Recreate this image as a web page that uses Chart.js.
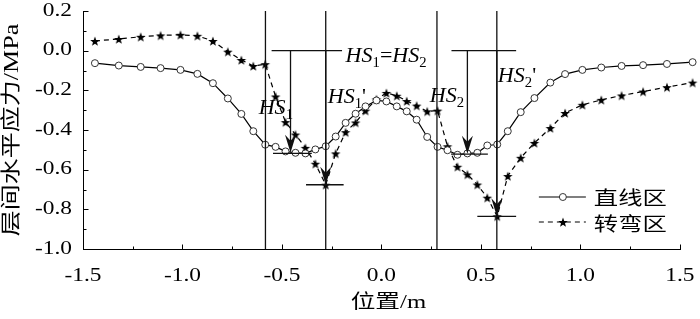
<!DOCTYPE html>
<html><head><meta charset="utf-8">
<script src="https://cdn.jsdelivr.net/npm/chart.js@4.4.1/dist/chart.umd.min.js"></script>
<style>html,body{margin:0;padding:0;background:#fff;}canvas{display:block;}</style>
</head><body>
<canvas id="c" width="700" height="319"></canvas>
<script>
// ---------- data ----------
const positions = [-1.44,-1.32,-1.21,-1.11,-1.01,-0.925,-0.847,-0.772,-0.704,-0.644,
  -0.584,-0.532,-0.482,-0.432,-0.382,-0.332,-0.28,-0.23,-0.18,-0.13,
  -0.08,-0.025,0.025,0.077,0.127,0.177,0.23,0.282,0.332,0.382,
  0.432,0.482,0.532,0.582,0.635,0.70,0.769,0.849,0.923,1.01,
  1.105,1.207,1.315,1.435,1.564];
const straightZone = [-0.063,-0.075,-0.082,-0.088,-0.097,-0.117,-0.164,-0.241,-0.319,-0.406,
  -0.474,-0.485,-0.508,-0.515,-0.518,-0.498,-0.482,-0.433,-0.364,-0.318,
  -0.281,-0.251,-0.256,-0.281,-0.306,-0.348,-0.435,-0.485,-0.502,-0.525,
  -0.518,-0.515,-0.478,-0.473,-0.406,-0.31,-0.239,-0.161,-0.118,-0.097,
  -0.085,-0.077,-0.073,-0.067,-0.058];
const curveZone = [0.049,0.059,0.07,0.077,0.08,0.075,0.049,-0.005,-0.047,-0.077,
  -0.068,-0.231,-0.36,-0.423,-0.49,-0.57,-0.676,-0.518,-0.411,-0.362,
  -0.302,-0.245,-0.213,-0.227,-0.254,-0.277,-0.306,-0.302,-0.482,-0.585,
  -0.624,-0.675,-0.741,-0.835,-0.632,-0.54,-0.465,-0.39,-0.314,-0.273,
  -0.248,-0.226,-0.206,-0.184,-0.161];
const seriesNames = ['直线区', '转弯区'];
const xTickValues = [-1.5, -1.0, -0.5, 0.0, 0.5, 1.0, 1.5];
const xMinorValues = [-1.25, -0.75, -0.25, 0.25, 0.75, 1.25];
const yTickValues = [-1.0, -0.8, -0.6, -0.4, -0.2, 0.0, 0.2];
const yMinorValues = [-0.9, -0.7, -0.5, -0.3, -0.1, 0.1];
const xTitle = '位置/m';
const yTitle = '层间水平应力/MPa';

// annotation geometry (data units)
const guideLinesX = [-0.583, -0.28, 0.279, 0.58];
const guideSpan = [0.2, -1.0];
const topBarY = 0.0;
const topBars = [[-0.552, -0.198], [0.352, 0.677]];
const arrowX = [-0.457, -0.28, 0.432, 0.58];
const arrowTo = [-0.515, -0.676, -0.52, -0.835];
const minBarFrom = [-0.545, -0.379, 0.35, 0.482];
const minBarTo = [-0.35, -0.19, 0.535, 0.677];
const minBarY = [-0.518, -0.676, -0.522, -0.836];
const labelX = [-0.617, -0.27, -0.18, 0.243, 0.585];
const labelY = [-0.318, -0.265, -0.058, -0.26, -0.157];
const labelParts = [
  [['HS','i'],['1','s']],
  [['HS','i'],['1','s'],["'",'n']],
  [['HS','i'],['1','s'],['=','n'],['HS','i'],['2','s']],
  [['HS','i'],['2','s']],
  [['HS','i'],['2','s'],["'",'n']]
];

// ---------- text stretch helper ----------
let TEXT_SX = 1.3;
const canvas = document.getElementById('c');
const ctx = canvas.getContext('2d');
const nativeFill = ctx.fillText.bind(ctx);
ctx.fillText = function (text, x, y, maxWidth) {
  this.save();
  this.translate(x, y);
  this.scale(TEXT_SX, 1);
  if (maxWidth === undefined) nativeFill(text, 0, 0);
  else nativeFill(text, 0, 0, maxWidth / TEXT_SX);
  this.restore();
};

const FAM = '"Liberation Serif", "Noto Sans CJK SC", serif';

function makeStar(R) {
  const c = document.createElement('canvas');
  const s = Math.ceil(R * 2 + 2);
  c.width = c.height = s;
  const g = c.getContext('2d');
  g.fillStyle = '#000';
  g.beginPath();
  for (let i = 0; i < 10; i++) {
    const r = i % 2 ? R * 0.42 : R;
    const a = -Math.PI / 2 + i * Math.PI / 5;
    g.lineTo(s / 2 + r * Math.cos(a), s / 2 + 0.6 + r * Math.sin(a));
  }
  g.closePath();
  g.fill();
  return c;
}
const starImg = makeStar(5.0);

const fmt = v => (Math.abs(v) < 1e-9 ? '0.0' : v.toFixed(1));

const decor = {
  id: 'decor',
  afterDatasetsDraw(chart) {
    const c = chart.ctx;
    const sx = chart.scales.x, sy = chart.scales.y;
    const X = v => sx.getPixelForValue(v), Y = v => sy.getPixelForValue(v);
    c.save();
    c.strokeStyle = '#111';
    c.fillStyle = '#111';
    c.lineWidth = 1.3;
    c.setLineDash([]);
    const seg = (x1, y1, x2, y2) => { c.beginPath(); c.moveTo(x1, y1); c.lineTo(x2, y2); c.stroke(); };
    guideLinesX.forEach(g => seg(X(g), Y(guideSpan[0]), X(g), Y(guideSpan[1])));
    topBars.forEach(b => seg(X(b[0]), Y(topBarY), X(b[1]), Y(topBarY)));
    minBarFrom.forEach((f, i) => seg(X(f), Y(minBarY[i]), X(minBarTo[i]), Y(minBarY[i])));
    arrowX.forEach((ax, i) => {
      const px = X(ax), tip = Y(arrowTo[i]);
      seg(px, Y(topBarY), px, tip - 8);
      c.beginPath();
      c.moveTo(px, tip);
      c.lineTo(px - 5.5, tip - 18);
      c.lineTo(px, tip - 12);
      c.lineTo(px + 5.5, tip - 18);
      c.closePath();
      c.fill();
    });
    // labels
    TEXT_SX = 1.05;
    c.fillStyle = '#000';
    c.textAlign = 'left';
    c.textBaseline = 'alphabetic';
    labelParts.forEach((parts, i) => {
      let cx = X(labelX[i]);
      const by = Y(labelY[i]);
      parts.forEach(([t, k]) => {
        c.font = k === 'i' ? 'italic 21px ' + FAM : (k === 's' ? '14px ' + FAM : '21px ' + FAM);
        c.fillText(t, cx, by + (k === 's' ? 5 : 0));
        cx += c.measureText(t).width * TEXT_SX;
      });
    });
    TEXT_SX = 1.3;
    c.restore();
  },
  afterDraw(chart) {
    const c = chart.ctx;
    const sx = chart.scales.x, sy = chart.scales.y;
    const X = v => sx.getPixelForValue(v), Y = v => sy.getPixelForValue(v);
    const area = chart.chartArea;
    c.save();
    c.strokeStyle = '#000';
    c.lineWidth = 1;
    c.setLineDash([]);
    const axisY = Math.round(area.bottom) + 0.5;
    const axisX = Math.round(area.left) + 0.5;
    // x axis line (only up to 1.5)
    c.beginPath(); c.moveTo(axisX - 0.5, axisY); c.lineTo(Math.round(X(xTickValues[xTickValues.length - 1])) + 1, axisY); c.stroke();
    // ticks pointing inward
    const tick = (x1, y1, x2, y2) => { c.beginPath(); c.moveTo(x1, y1); c.lineTo(x2, y2); c.stroke(); };
    xTickValues.forEach(v => { const p = Math.round(X(v)) + 0.5; tick(p, axisY, p, axisY - 5); });
    xMinorValues.forEach(v => { const p = Math.round(X(v)) + 0.5; tick(p, axisY, p, axisY - 3); });
    yTickValues.forEach(v => { const p = Math.round(Y(v)) + 0.5; tick(axisX, p, axisX + 5, p); });
    yMinorValues.forEach(v => { const p = Math.round(Y(v)) + 0.5; tick(axisX, p, axisX + 3, p); });

    // legend
    const x0 = X(1.5) - 141, x1 = x0 + 47, xm = x0 + 24;
    const rows = [area.bottom - 52, area.bottom - 27];
    c.strokeStyle = '#000';
    c.lineWidth = 1.2;
    c.beginPath(); c.moveTo(x0, rows[0]); c.lineTo(x1, rows[0]); c.stroke();
    c.beginPath(); c.arc(xm, rows[0], 3.5, 0, Math.PI * 2); c.fillStyle = '#fff'; c.fill();
    c.strokeStyle = '#333'; c.lineWidth = 1; c.stroke();
    c.strokeStyle = '#000'; c.lineWidth = 1.2; c.setLineDash([5, 4]);
    c.beginPath(); c.moveTo(x0, rows[1]); c.lineTo(x1, rows[1]); c.stroke();
    c.setLineDash([]);
    c.drawImage(starImg, Math.round(xm - starImg.width / 2), Math.round(rows[1] - starImg.height / 2));
    TEXT_SX = 1.28;
    c.fillStyle = '#000';
    c.font = '19px "Noto Sans CJK SC", sans-serif';
    c.textAlign = 'left';
    c.textBaseline = 'middle';
    c.fillText(seriesNames[0], x1 + 8, rows[0] + 1);
    c.fillText(seriesNames[1], x1 + 8, rows[1] + 2);
    TEXT_SX = 1.3;
    c.restore();
  }
};

new Chart(ctx, {
  type: 'line',
  data: {
    datasets: [
      {
        label: seriesNames[0],
        data: positions.map((x, i) => ({ x, y: straightZone[i] })),
        borderColor: '#000', borderWidth: 1.2, tension: 0,
        pointStyle: 'circle', pointRadius: 3.5, pointBackgroundColor: '#fff',
        pointBorderColor: '#333', pointBorderWidth: 1, clip: false
      },
      {
        label: seriesNames[1],
        data: positions.map((x, i) => ({ x, y: curveZone[i] })),
        borderColor: '#000', borderWidth: 1.2, borderDash: [5, 4], tension: 0,
        pointStyle: starImg, pointRadius: 5, clip: false
      }
    ]
  },
  options: {
    responsive: false,
    animation: false,
    devicePixelRatio: 1,
    events: [],
    layout: { padding: { top: 11, right: 3, left: 0, bottom: 0 } },
    plugins: { legend: { display: false }, tooltip: { enabled: false } },
    scales: {
      x: {
        type: 'linear', position: 'bottom', min: -1.5, max: 1.57,
        afterFit: s => { s.height = 70; s.paddingLeft = 0; s.paddingRight = 0; },
        afterBuildTicks: s => { s.ticks = xTickValues.map(v => ({ value: v })); },
        grid: { display: false, drawTicks: false },
        border: { display: false },
        ticks: { color: '#000', padding: 16, maxRotation: 0, autoSkip: false,
          font: { family: FAM, size: 18, lineHeight: 1.2 }, callback: v => fmt(v) },
        title: { display: true, text: xTitle, color: '#000',
          font: { family: FAM, size: 19, lineHeight: 1.2 }, padding: { top: 0, bottom: 5 } }
      },
      y: {
        type: 'linear', position: 'left', min: -1.0, max: 0.2,
        afterFit: s => { s.width = 83; s.paddingTop = 0; s.paddingBottom = 0; },
        afterBuildTicks: s => { s.ticks = yTickValues.map(v => ({ value: v })); },
        grid: { display: false, drawTicks: false },
        border: { display: true, color: '#000', width: 1 },
        ticks: { color: '#000', padding: 11, autoSkip: false,
          font: { family: FAM, size: 18, lineHeight: 1.2 }, callback: v => fmt(v) },
        title: { display: true, text: yTitle, color: '#000',
          font: { family: FAM, size: 20, lineHeight: 1.2 }, padding: { top: 1, bottom: 0 } }
      }
    }
  },
  plugins: [decor]
});
</script>
</body></html>
